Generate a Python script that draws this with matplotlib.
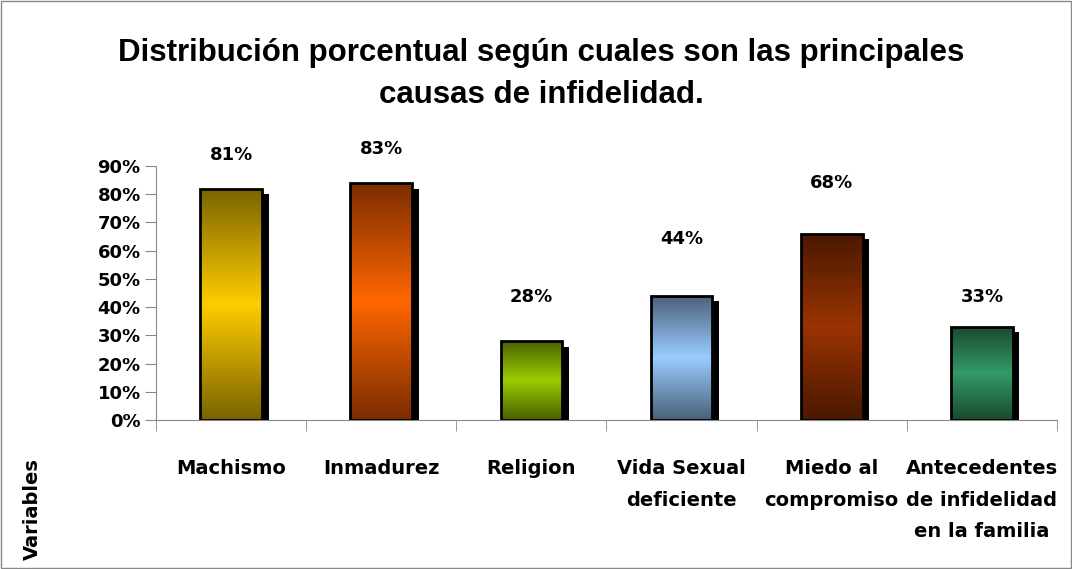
import numpy as np
import matplotlib.pyplot as plt
import matplotlib.font_manager as fm
from matplotlib.colors import LinearSegmentedColormap
from matplotlib.patches import Rectangle

plt.rcParams['font.family'] = ['DejaVu Sans']

# Arial-like bold for the title
bold_files = [f for f in fm.findSystemFonts() if f.endswith("LiberationSans-Bold.ttf")]
if bold_files:
    title_prop = fm.FontProperties(fname=bold_files[0], size=22.5)
else:
    title_prop = fm.FontProperties(family="DejaVu Sans", weight="bold", size=19)

# Data
categories = ["Machismo", "Inmadurez", "Religion", "Vida Sexual\ndeficiente",
              "Miedo al\ncompromiso", "Antecedentes\nde infidelidad\nen la familia"]
values = [0.82, 0.84, 0.28, 0.44, 0.66, 0.33]
labels = ["81%", "83%", "28%", "44%", "68%", "33%"]
label_y = [0.94, 0.96, 0.435, 0.64, 0.84, 0.435]
dark = ["#786300", "#7a2c00", "#4a6000", "#4a6079", "#4a1800", "#1a4a2e"]
light = ["#ffcc00", "#ff6600", "#99cc00", "#99ccff", "#993300", "#339966"]

fig = plt.figure(figsize=(10.72, 5.69), dpi=100)
fig.patches.append(Rectangle((0.001, 0.001), 0.998, 0.997, transform=fig.transFigure,
                             fill=False, edgecolor="#888888", lw=1))
ax = fig.add_axes([0.1455, 0.2619, 0.8405, 0.4464])

x = np.arange(len(values))
w = 0.41
grad = np.concatenate([np.linspace(0, 1, 128), np.linspace(1, 0, 128)])[:, None]

# shadows
ax.bar(x + 0.045, np.array(values) - 0.02, width=w, color="black", zorder=1)
bars = ax.bar(x, values, width=w, color="none", edgecolor="black", lw=2, zorder=3)
for b, d, l in zip(bars, dark, light):
    cmap = LinearSegmentedColormap.from_list("g", [d, l])
    im = ax.imshow(grad, cmap=cmap, aspect="auto", zorder=2,
                   extent=[b.get_x(), b.get_x() + b.get_width(), 0, b.get_height()])
    im.set_clip_path(b)

for xi, lab, ly in zip(x, labels, label_y):
    ax.text(xi, ly, lab, ha="center", va="center", fontsize=13,
            fontweight="bold", clip_on=False)

ax.set_xlim(-0.5, len(values) - 0.5)
ax.set_ylim(0, 0.9)
ax.set_yticks(np.arange(0, 0.91, 0.1))
ax.set_yticklabels([f"{int(round(t * 100))}%" for t in np.arange(0, 0.91, 0.1)],
                   fontsize=13, fontweight="bold")
ax.set_xticks(x)
ax.set_xticklabels(categories, fontsize=14, fontweight="bold", linespacing=1.85,
                   va="top")
ax.tick_params(axis="x", which="major", length=0, pad=28)
ax.set_xticks(np.arange(-0.5, len(values)), minor=True)
ax.tick_params(axis="x", which="minor", length=8, color="#888888", direction="out")
ax.tick_params(axis="y", length=8, color="#888888", direction="out", pad=3)
for s in ["top", "right"]:
    ax.spines[s].set_visible(False)
for s in ["left", "bottom"]:
    ax.spines[s].set_color("#888888")

fig.text(0.505, 0.87, "Distribución porcentual según cuales son las principales\ncausas de infidelidad.",
         ha="center", va="center", fontproperties=title_prop, linespacing=1.55)
fig.text(0.03, 0.105, "Variables", rotation=90, ha="center", va="center",
         fontsize=14, fontweight="bold")

fig.savefig("out.png", dpi=100)
